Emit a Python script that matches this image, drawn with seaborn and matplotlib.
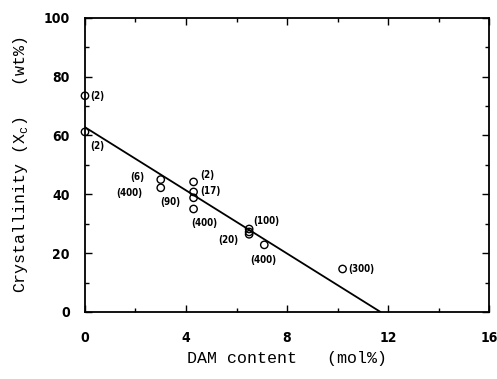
import numpy as np
import pandas as pd
import matplotlib as mpl
mpl.use("Agg")
import matplotlib.pyplot as plt
import seaborn as sns
from matplotlib.ticker import MultipleLocator

# measured points: DAM content (mol%) vs crystallinity (wt%)
dam = [0, 0, 3.0, 3.0, 4.3, 4.3, 4.3, 4.3, 6.5, 6.5, 6.5, 7.1, 10.2]
xc = [73.5, 61.2, 45.0, 42.2, 44.2, 40.8, 38.8, 35.0, 28.2, 27.2, 26.4, 22.8, 14.6]
tags = ["(2)", "(2)", "(6)", "(400)", "(2)", "(17)", "(90)", "(400)",
        "(100)", "", "(20)", "(400)", "(300)"]

# regression line end points
line_x = [0, 11.7]
line_y = [62.8, 0]

df = pd.DataFrame({"dam": dam, "xc": xc})

sns.set_style("ticks")
plt.rcParams["text.color"] = "black"
plt.rcParams["axes.labelcolor"] = "black"
plt.rcParams["xtick.color"] = "black"
plt.rcParams["ytick.color"] = "black"
plt.rcParams["axes.edgecolor"] = "black"

fig = plt.figure(figsize=(4.97, 3.79), dpi=100)
ax = fig.add_axes([0.171, 0.177, 0.813, 0.776])

sns.lineplot(x=line_x, y=line_y, color="black", lw=1.3, ax=ax)
pts = sns.scatterplot(data=df, x="dam", y="xc", marker="o", s=28,
                      facecolor="none", edgecolor="black", linewidth=1.0, ax=ax, zorder=3)
for c in ax.collections:
    c.set_clip_on(False)

# label offsets in points
offs = [(4, 0), (4, -10), (-22, 2), (-32, -4), (5, 5), (5, 1), (-24, -3), (-2, -10),
        (3, 6), (0, 0), (-22, -4), (-10, -11), (4, 0)]
for xv, yv, t, o in zip(dam, xc, tags, offs):
    if t:
        ax.annotate(t, (xv, yv), xytext=o, textcoords="offset points",
                    fontsize=7, fontweight="bold", va="center", ha="left",
                    family="DejaVu Sans", fontstretch="condensed")

ax.set_xlim(0, 16)
ax.set_ylim(0, 100)
ax.xaxis.set_major_locator(MultipleLocator(4))
ax.xaxis.set_minor_locator(MultipleLocator(2))
ax.yaxis.set_major_locator(MultipleLocator(20))
ax.yaxis.set_minor_locator(MultipleLocator(10))
ax.tick_params(which="both", direction="in", top=True, right=True, width=1)
ax.tick_params(which="major", length=5)
ax.tick_params(which="minor", length=3)
for lab in ax.get_xticklabels() + ax.get_yticklabels():
    lab.set_fontweight("bold")
    lab.set_fontsize(10)
    lab.set_family("DejaVu Sans")
    lab.set_fontstretch("condensed")
ax.tick_params(axis="x", pad=14)
ax.tick_params(axis="y", pad=11)
for sp in ax.spines.values():
    sp.set_linewidth(1.3)

ax.set_xlabel("DAM content   (mol%)", family="Liberation Mono", fontsize=12, labelpad=4)
ax.set_ylabel("Crystallinity (X$_\\mathregular{c}$)   (wt%)", family="Liberation Mono",
              fontsize=12, labelpad=10)

fig.savefig("out.png", dpi=100)
